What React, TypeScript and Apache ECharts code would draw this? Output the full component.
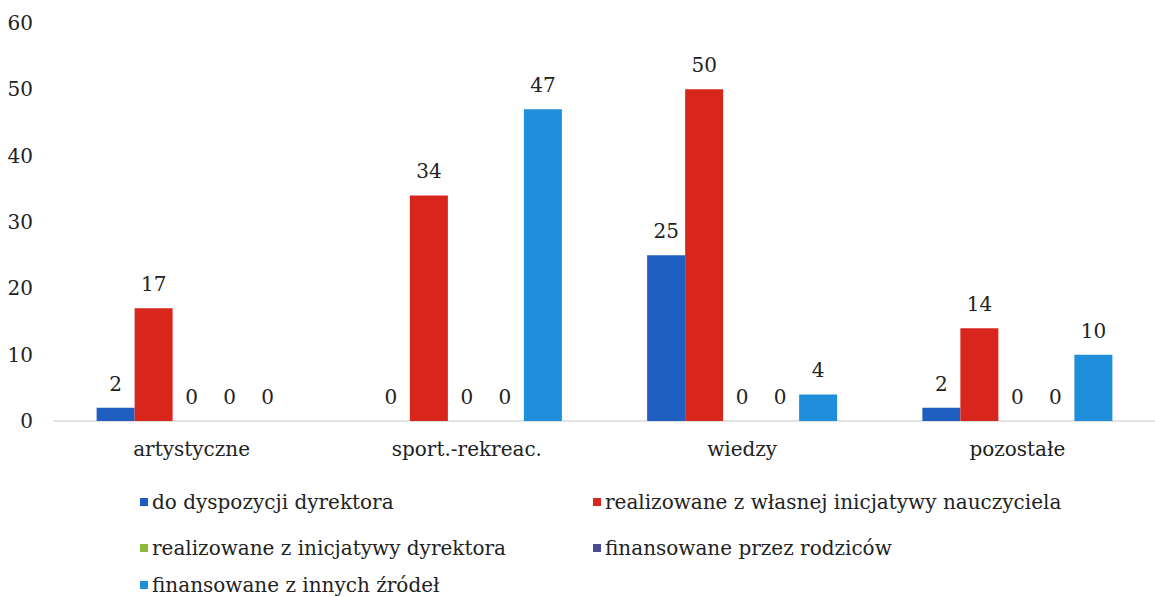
import React, { useEffect, useRef } from "react";
import * as echarts from "echarts";

const categories = ["artystyczne", "sport.-rekreac.", "wiedzy", "pozostałe"];
const seriesNames = [
  "do dyspozycji dyrektora",
  "realizowane z własnej inicjatywy nauczyciela",
  "realizowane z inicjatywy dyrektora",
  "finansowane przez rodziców",
  "finansowane z innych źródeł",
];
const doDyspozycji = [2, 0, 25, 2];
const wlasnaInicjatywa = [17, 34, 50, 14];
const inicjatywaDyrektora = [0, 0, 0, 0];
const rodzice = [0, 0, 0, 0];
const inneZrodla = [0, 47, 4, 10];
const yTicks = [0, 10, 20, 30, 40, 50, 60];

const colors = ["#1f5fc2", "#d9261d", "#8db83a", "#4b4a94", "#1f8fdc"];
const FONT = "DejaVu Serif";
const FS = 20;

export default function App() {
  const ref = useRef<HTMLDivElement>(null);
  useEffect(() => {
    if (!ref.current) return;
    const chart = echarts.init(ref.current, undefined, { renderer: "svg" });
    const values = [doDyspozycji, wlasnaInicjatywa, inicjatywaDyrektora, rodzice, inneZrodla];
    const legendPos = [
      { left: 140, top: 492 },
      { left: 593, top: 492 },
      { left: 140, top: 538 },
      { left: 593, top: 538 },
      { left: 140, top: 575 },
    ];
    chart.setOption({
      animation: false,
      color: colors,
      textStyle: { fontFamily: FONT },
      grid: { left: 54, top: 23, width: 1114, height: 398 },
      xAxis: {
        type: "category",
        data: categories,
        axisTick: { show: false },
        axisLine: { lineStyle: { color: "#d9d9d9", width: 1.5 } },
        axisLabel: { color: "#222", fontFamily: FONT, fontSize: FS, margin: 18 },
      },
      yAxis: {
        type: "value",
        min: yTicks[0],
        max: yTicks[yTicks.length - 1],
        interval: 10,
        splitLine: { show: false },
        axisLine: { show: false },
        axisTick: { show: false },
        axisLabel: { color: "#222", fontFamily: FONT, fontSize: FS, margin: 21 },
      },
      legend: seriesNames.map((n, i) => ({
        data: [n],
        left: legendPos[i].left,
        top: legendPos[i].top,
        icon: "rect",
        itemWidth: 8,
        itemHeight: 8,
        padding: 0,
        textStyle: { color: "#222", fontFamily: FONT, fontSize: FS, padding: [0, 0, 0, -1] },
      })),
      series: seriesNames.map((n, i) => ({
        name: n,
        type: "bar",
        data: values[i],
        barWidth: 38,
        barGap: "0%",
        label: {
          show: true,
          position: "top",
          distance: 14,
          color: "#222",
          fontFamily: FONT,
          fontSize: FS,
        },
      })),
    });
    return () => chart.dispose();
  }, []);
  return (
    <div
      ref={ref}
      style={{ position: "absolute", left: 0, top: 0, width: 1155, height: 596, background: "#fff" }}
    />
  );
}
